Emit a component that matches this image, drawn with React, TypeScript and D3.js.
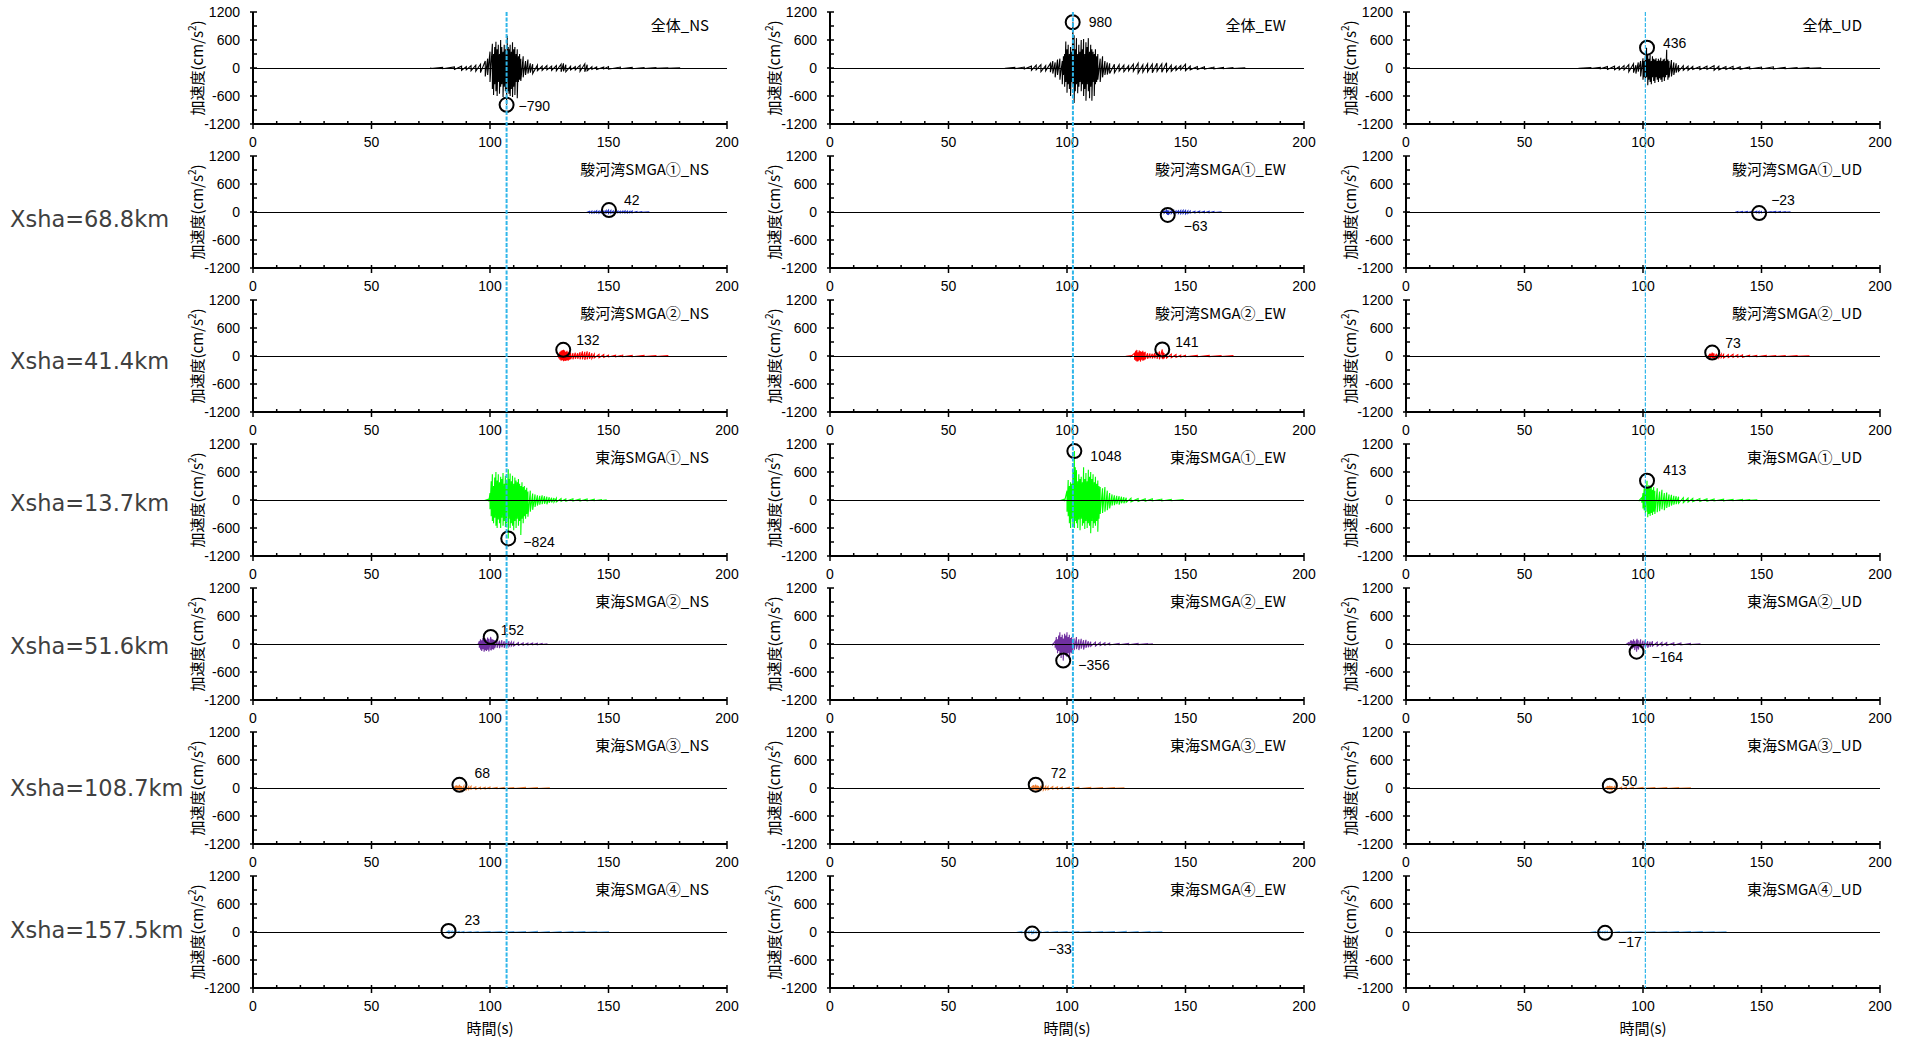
import React from "react";
import * as d3 from "d3";

// ---------- data ----------
const COMPONENTS = ["NS", "EW", "UD"];
const SOURCES = ["全体", "駿河湾SMGA①", "駿河湾SMGA②", "東海SMGA①", "東海SMGA②", "東海SMGA③", "東海SMGA④"];
const XSHA = ["", "68.8", "41.4", "13.7", "51.6", "108.7", "157.5"];
const Y_TICKS = [-1200, -600, 0, 600, 1200];
const Y_MINOR = [-900, -300, 300, 900];
const X_TICKS = [0, 50, 100, 150, 200];
const MARK_T = [107, 102.5, 101];

const PEAK_T = [
  [107, 102.4, 101.7],
  [150.2, 142.5, 149],
  [130.9, 140.2, 129.2],
  [107.7, 103.1, 101.7],
  [100.3, 98.4, 97.3],
  [87.1, 86.8, 86],
  [82.5, 85.3, 84],
];
const PEAK_V = [
  [-790, 980, 436],
  [42, -63, -23],
  [132, 141, 73],
  [-824, 1048, 413],
  [152, -356, -164],
  [68, 72, 50],
  [23, -33, -17],
];

// envelope samples: time, upper, lower (cm/s2)
const W_ALL_NS = [
  75, 10, -10, 80, 15, -15, 85, 25, -30, 88, 40, -50, 90, 30, -40, 92, 50, -60, 94, 60, -70, 96, 80, -100,
  98, 150, -180, 99, 200, -150, 100, 350, -300, 101, 520, -450, 101.5, 300, -580, 102, 450, -350, 102.5, 560, -500,
  103, 400, -600, 103.5, 500, -300, 104, 300, -550, 104.5, 600, -400, 105, 450, -350, 105.5, 350, -620, 106, 500, -400,
  106.5, 400, -500, 107, 300, -790, 107.3, 690, -300, 107.7, 450, -500, 108, 400, -550, 108.5, 500, -600, 109, 350, -450,
  109.5, 550, -620, 110, 400, -400, 110.5, 450, -580, 111, 300, -300, 111.5, 400, -650, 112, 250, -300, 112.5, 300, -250,
  113, 200, -280, 114, 250, -200, 115, 150, -150, 116, 180, -120, 117, 100, -100, 118, 80, -120, 120, 60, -60,
  122, 40, -50, 124, 50, -40, 126, 40, -50, 128, 50, -60, 130, 80, -80, 131, 100, -70, 132, 70, -80, 134, 40, -40,
  136, 30, -40, 138, 60, -70, 140, 90, -80, 141, 70, -60, 143, 30, -30, 145, 25, -30, 148, 20, -20, 150, 30, -25,
  155, 20, -15, 160, 15, -15, 165, 10, -10, 170, 8, -8, 175, 5, -5, 180, 5, -5,
];
const W_ALL_EW = [
  74, 8, -8, 78, 12, -15, 82, 20, -20, 85, 40, -50, 87, 60, -40, 89, 70, -80, 91, 50, -60, 93, 100, -90, 94, 150, -120,
  95, 120, -200, 96, 180, -150, 97, 200, -250, 98, 150, -350, 98.5, 250, -150, 99, 300, -400, 99.5, 570, -300,
  100, 400, -530, 100.5, 500, -350, 101, 300, -450, 101.5, 450, -600, 102, 350, -300, 102.5, 980, -400, 103, 700, -750,
  103.5, 400, -500, 104, 640, -350, 104.5, 300, -540, 105, 500, -400, 105.5, 350, -300, 106, 600, -500, 106.5, 400, -350,
  107, 620, -600, 107.5, 300, -450, 108, 550, -700, 108.5, 450, -350, 109, 640, -500, 109.5, 350, -650, 110, 500, -400,
  110.5, 400, -700, 111, 350, -300, 111.5, 300, -600, 112, 400, -350, 112.5, 250, -300, 113, 300, -250, 114, 200, -300,
  115, 250, -200, 116, 150, -150, 117, 120, -140, 118, 100, -120, 120, 80, -100, 122, 70, -70, 124, 60, -80, 126, 50, -60,
  128, 80, -70, 130, 100, -110, 132, 70, -90, 134, 90, -80, 136, 80, -100, 138, 100, -70, 140, 90, -90, 142, 110, -80,
  144, 60, -70, 146, 40, -50, 148, 50, -40, 150, 80, -60, 152, 40, -40, 155, 30, -30, 158, 25, -25, 162, 20, -20,
  166, 15, -15, 170, 10, -10, 175, 5, -5,
];
const W_ALL_UD = [
  73, 5, -5, 78, 10, -10, 82, 15, -15, 85, 30, -30, 88, 40, -35, 90, 30, -40, 92, 50, -40, 94, 70, -80, 96, 90, -100,
  97, 60, -120, 98, 120, -80, 99, 150, -180, 100, 210, -250, 100.5, 150, -200, 101, 250, -300, 101.5, 436, -200,
  102, 300, -370, 102.5, 200, -250, 103, 280, -300, 103.5, 150, -350, 104, 250, -200, 104.5, 200, -280, 105, 180, -320,
  105.5, 210, -200, 106, 150, -250, 106.5, 200, -300, 107, 160, -220, 107.5, 220, -250, 108, 150, -300, 108.5, 180, -200,
  109, 200, -280, 109.5, 150, -200, 110, 390, -150, 110.5, 180, -250, 111, 150, -200, 112, 170, -180, 113, 120, -150,
  114, 100, -100, 115, 60, -70, 117, 50, -50, 119, 40, -50, 121, 35, -30, 124, 30, -35, 127, 40, -30, 130, 50, -50,
  132, 40, -40, 135, 30, -30, 138, 35, -30, 141, 25, -30, 145, 20, -20, 150, 20, -20, 155, 25, -20, 160, 15, -15,
  165, 10, -10, 170, 8, -8, 175, 5, -5,
];
const W_S1_NS = [
  141, 5, -5, 142, 15, -20, 143, 20, -25, 144, 15, -20, 145, 25, -20, 146, 20, -25, 147, 25, -20, 148, 20, -30,
  149, 30, -25, 150, 42, -30, 151, 30, -25, 152, 20, -20, 153, 15, -15, 154, 20, -15, 155, 15, -20, 156, 20, -15,
  157, 25, -20, 158, 20, -20, 159, 15, -15, 160, 20, -15, 162, 10, -10, 164, 8, -8, 167, 5, -5,
];
const W_S1_EW = [
  140, 5, -5, 141, 20, -25, 142, 40, -45, 142.5, 35, -63, 143, 30, -40, 144, 25, -30, 145, 30, -25, 146, 20, -25,
  147, 25, -30, 148, 30, -35, 149, 35, -30, 150, 30, -40, 151, 25, -30, 152, 20, -20, 154, 15, -20, 156, 20, -15,
  158, 15, -15, 160, 15, -15, 162, 10, -10, 165, 5, -5,
];
const W_S1_UD = [
  139, 5, -5, 140, 10, -12, 142, 12, -10, 144, 10, -12, 146, 12, -15, 148, 15, -18, 149, 15, -23, 150, 12, -15,
  152, 10, -10, 154, 8, -8, 156, 12, -10, 158, 10, -10, 160, 6, -6, 162, 4, -4,
];
const W_S2_NS = [
  128.5, 10, -10, 129, 40, -50, 129.5, 90, -80, 130, 110, -100, 130.5, 125, -90, 131, 132, -110, 131.5, 120, -100,
  132, 90, -105, 132.5, 110, -90, 133, 80, -100, 133.5, 100, -80, 134, 70, -70, 135, 60, -70, 136, 70, -60, 137, 60, -60,
  138, 80, -70, 139, 100, -70, 140, 90, -80, 141, 100, -70, 142, 80, -60, 143, 60, -50, 144, 40, -40, 146, 35, -35,
  148, 30, -30, 150, 20, -20, 153, 15, -15, 156, 20, -15, 160, 15, -15, 165, 15, -10, 170, 10, -10, 175, 8, -8,
];
const W_S2_EW = [
  125, 5, -5, 127, 10, -10, 128.5, 60, -80, 129, 110, -100, 129.5, 130, -120, 130, 80, -110, 130.5, 120, -90,
  131, 100, -120, 131.5, 90, -80, 132, 110, -100, 132.5, 80, -90, 133, 90, -70, 134, 60, -60, 135, 55, -50, 136, 50, -55,
  137, 60, -50, 138, 80, -60, 139, 100, -70, 140.2, 141, -60, 140.5, 90, -70, 141, 60, -50, 142, 50, -45, 144, 40, -35,
  146, 30, -30, 148, 20, -20, 150, 15, -15, 155, 15, -15, 160, 12, -12, 165, 10, -10, 170, 8, -8,
];
const W_S2_UD = [
  127.5, 5, -5, 128, 30, -40, 128.5, 50, -45, 129.2, 73, -50, 129.5, 60, -45, 130, 55, -60, 131, 50, -45, 132, 45, -40,
  133, 40, -35, 134, 35, -40, 136, 30, -30, 138, 35, -30, 140, 30, -25, 142, 25, -25, 145, 15, -15, 148, 15, -15,
  152, 12, -12, 156, 10, -10, 160, 10, -10, 165, 8, -8, 170, 6, -6,
];
const W_T1_NS = [
  98, 5, -5, 99.5, 20, -30, 100, 150, -200, 100.5, 400, -350, 101, 550, -450, 101.5, 300, -500, 102, 480, -380,
  102.5, 600, -550, 103, 420, -600, 103.5, 550, -420, 104, 380, -500, 104.5, 500, -600, 105, 450, -380, 105.5, 580, -550,
  106, 350, -450, 106.5, 520, -580, 107, 400, -500, 107.7, 660, -824, 108, 450, -400, 108.5, 570, -600, 109, 400, -500,
  109.5, 520, -550, 110, 350, -650, 110.5, 480, -450, 111, 420, -600, 111.5, 380, -400, 112, 450, -550, 112.5, 350, -450,
  113, 300, -750, 113.5, 380, -400, 114, 280, -500, 114.5, 300, -350, 115, 220, -400, 115.5, 260, -300, 116, 180, -360,
  117, 200, -250, 118, 140, -210, 119, 120, -150, 120, 100, -120, 121, 90, -100, 122, 100, -90, 123, 80, -80,
  124, 70, -90, 125, 60, -60, 126, 50, -55, 127, 45, -45, 128, 40, -40, 130, 30, -30, 132, 25, -25, 135, 25, -20,
  138, 20, -20, 141, 20, -20, 144, 15, -15, 147, 10, -10, 149, 5, -5,
];
const W_T1_EW = [
  97.5, 5, -5, 99, 20, -25, 100, 200, -250, 100.5, 430, -350, 101, 300, -500, 101.5, 380, -600, 102, 350, -400,
  102.5, 600, -550, 103.1, 1048, -600, 103.5, 700, -450, 104, 640, -500, 104.5, 400, -600, 105, 550, -420, 105.5, 450, -650,
  106, 500, -400, 106.5, 380, -550, 107, 700, -500, 107.5, 450, -620, 108, 580, -450, 108.5, 400, -600, 109, 650, -500,
  109.5, 500, -550, 110, 600, -710, 110.5, 450, -450, 111, 550, -600, 111.5, 380, -500, 112, 500, -550, 112.5, 350, -450,
  113, 420, -680, 113.5, 300, -400, 114, 280, -300, 115, 250, -280, 116, 280, -250, 117, 200, -220, 118, 150, -180,
  119, 120, -120, 120, 100, -110, 121, 90, -90, 122, 80, -100, 123, 70, -70, 124, 60, -70, 125, 50, -50, 127, 40, -40,
  130, 30, -30, 133, 25, -25, 136, 25, -20, 140, 20, -20, 144, 15, -15, 149, 8, -8,
];
const W_T1_UD = [
  98.5, 5, -5, 99.5, 50, -60, 100, 150, -180, 100.5, 250, -220, 101, 300, -280, 101.7, 413, -250, 102, 280, -370,
  102.5, 320, -300, 103, 250, -340, 103.5, 300, -280, 104, 220, -320, 104.5, 280, -250, 105, 200, -300, 106, 250, -260,
  107, 180, -240, 108, 220, -200, 109, 150, -220, 110, 160, -170, 111, 120, -150, 112, 110, -120, 113, 90, -100,
  114, 80, -90, 115, 70, -70, 117, 50, -60, 119, 40, -45, 121, 35, -35, 124, 30, -30, 127, 25, -25, 130, 20, -20,
  134, 18, -18, 138, 15, -15, 142, 12, -12, 145, 8, -8, 148, 5, -5,
];
const W_T2_NS = [
  95, 10, -10, 95.5, 60, -80, 96, 100, -120, 96.5, 80, -150, 97, 130, -110, 97.5, 100, -165, 98, 120, -130,
  98.5, 90, -150, 99, 140, -120, 99.5, 110, -160, 100.3, 152, -130, 100.5, 120, -140, 101, 100, -110, 101.5, 90, -120,
  102, 80, -90, 103, 90, -80, 104, 70, -90, 105, 80, -70, 106, 60, -80, 107, 70, -60, 108, 60, -50, 109, 40, -40,
  110, 35, -40, 112, 30, -30, 114, 25, -25, 116, 20, -20, 118, 20, -15, 120, 15, -15, 122, 10, -10, 124, 5, -5,
];
const W_T2_EW = [
  94, 10, -10, 95, 60, -80, 95.5, 150, -120, 96, 100, -200, 96.5, 180, -150, 97, 250, -220, 97.5, 150, -300,
  98, 200, -180, 98.4, 120, -356, 99, 220, -200, 99.5, 180, -250, 100, 250, -280, 100.5, 150, -200, 101, 200, -330,
  101.5, 130, -180, 102, 150, -200, 103, 120, -130, 104, 150, -110, 105, 100, -130, 106, 110, -100, 107, 80, -120,
  108, 90, -80, 109, 60, -70, 110, 50, -50, 112, 40, -45, 114, 35, -35, 116, 25, -25, 118, 20, -20, 122, 15, -15,
  126, 15, -15, 130, 12, -12, 134, 8, -8, 136, 5, -5,
];
const W_T2_UD = [
  93, 5, -5, 94, 30, -40, 95, 80, -60, 95.5, 60, -100, 96, 100, -80, 96.5, 70, -130, 97.3, 90, -164, 97.5, 110, -90,
  98, 80, -120, 99, 100, -80, 100, 70, -100, 101, 80, -70, 102, 60, -80, 103, 50, -60, 104, 60, -45, 106, 40, -45,
  108, 35, -35, 110, 30, -30, 113, 25, -25, 116, 20, -20, 120, 12, -12, 124, 5, -5,
];
const W_T3_NS = [
  84.5, 5, -5, 85.5, 40, -35, 86, 55, -50, 86.5, 45, -40, 87.1, 68, -45, 87.5, 50, -55, 88, 40, -45, 89, 45, -35,
  90, 35, -40, 91, 30, -30, 92, 35, -25, 94, 25, -30, 96, 20, -20, 98, 15, -20, 100, 20, -15, 103, 15, -15, 106, 12, -12,
  110, 10, -10, 115, 12, -10, 120, 10, -10, 125, 5, -5,
];
const W_T3_EW = [
  84.5, 5, -5, 85.5, 40, -45, 86, 60, -50, 86.8, 72, -55, 87, 50, -50, 87.5, 55, -60, 88, 45, -50, 89, 50, -40,
  90, 40, -45, 91, 35, -35, 92, 30, -35, 94, 30, -25, 96, 25, -25, 98, 20, -20, 101, 15, -15, 105, 15, -15, 110, 12, -12,
  115, 10, -10, 120, 8, -8, 124, 5, -5,
];
const W_T3_UD = [
  84, 5, -5, 85, 30, -35, 85.5, 40, -30, 86, 50, -35, 86.5, 35, -40, 87, 40, -30, 88, 30, -35, 89, 25, -25, 91, 20, -25,
  93, 20, -20, 96, 15, -15, 100, 12, -12, 105, 10, -10, 110, 10, -10, 115, 8, -8, 120, 5, -5,
];
const W_T4_NS = [
  81.5, 5, -5, 82.5, 23, -15, 83, 15, -18, 84, 18, -15, 85, 15, -15, 87, 12, -12, 89, 10, -12, 92, 10, -10, 95, 8, -8,
  100, 8, -8, 105, 10, -10, 110, 8, -8, 115, 10, -10, 120, 12, -10, 125, 10, -10, 130, 10, -10, 135, 8, -8, 140, 8, -8,
  145, 6, -6, 150, 4, -4,
];
const W_T4_EW = [
  79, 5, -5, 81, 12, -15, 83, 15, -20, 84, 20, -25, 85, 18, -28, 85.3, 15, -33, 86, 20, -25, 87, 15, -20, 89, 12, -15,
  92, 10, -10, 96, 8, -8, 100, 8, -8, 105, 8, -8, 110, 10, -10, 115, 8, -8, 120, 10, -10, 125, 12, -10, 130, 10, -10,
  135, 8, -8, 140, 4, -4,
];
const W_T4_UD = [
  78, 4, -4, 80, 8, -10, 82, 10, -12, 83, 10, -14, 84, 12, -17, 85, 10, -12, 87, 8, -10, 90, 6, -6, 95, 6, -6,
  100, 5, -5, 105, 6, -6, 110, 6, -6, 115, 8, -8, 120, 8, -8, 125, 8, -6, 130, 6, -6, 135, 4, -4,
];

const WAVES = [
  [W_ALL_NS, W_ALL_EW, W_ALL_UD],
  [W_S1_NS, W_S1_EW, W_S1_UD],
  [W_S2_NS, W_S2_EW, W_S2_UD],
  [W_T1_NS, W_T1_EW, W_T1_UD],
  [W_T2_NS, W_T2_EW, W_T2_UD],
  [W_T3_NS, W_T3_EW, W_T3_UD],
  [W_T4_NS, W_T4_EW, W_T4_UD],
];

// ---------- layout / style ----------
const W = 1906;
const H = 1039;
const COL_X0 = [253, 830, 1406];
const PLOT_W = 474;
const ROW_TOP0 = 12;
const ROW_PITCH = 144;
const PLOT_H = 112;
const ROW_COLORS = ["#000000", "#1d2fc4", "#ff0000", "#00ff00", "#7030a0", "#ed7d31", "#4f9fdf"];
const MARK_W = [2, 2, 1.2];
// label offsets (dx, dy) from circle centre
const LABEL_OFF = [
  [[12, 1], [16, 0], [16, -5]],
  [[15, -10], [16, 11], [12, -13]],
  [[13, -10], [13, -7], [13, -10]],
  [[15, 4], [16, 5], [16, -11]],
  [[10, -7], [15, 4], [15, 5]],
  [[15, -12], [15, -12], [12, -5]],
  [[16, -11], [16, 15], [13, 9]],
];
const NUM_FONT = "'Liberation Sans', Arial, sans-serif";
const JP_FONT = "'Noto Sans CJK JP', 'Noto Sans', sans-serif";

function fmt(v: number) {
  return v < 0 ? "\u2212" + Math.abs(v) : String(v);
}

function Panel({ r, c }: { r: number; c: number }) {
  const x0 = COL_X0[c];
  const top = ROW_TOP0 + r * ROW_PITCH;
  const bottom = top + PLOT_H;
  const x = d3.scaleLinear().domain([0, 200]).range([x0, x0 + PLOT_W]);
  const y = d3.scaleLinear().domain([-1200, 1200]).range([bottom, top]);
  const w = WAVES[r][c];
  const pts: [number, number][] = [];
  for (let i = 0; i < w.length; i += 3) {
    pts.push([w[i], w[i + 1]]);
    pts.push([w[i], w[i + 2]]);
  }
  const line = d3
    .line<[number, number]>()
    .x((d) => x(d[0]))
    .y((d) => y(d[1]));
  const xMinor = d3.range(0, 201, 10).filter((t) => t % 50 !== 0);
  const cx = x(PEAK_T[r][c]);
  const cy = y(PEAK_V[r][c]);
  const [ldx, ldy] = LABEL_OFF[r][c];
  return (
    <g>
      <path d={line(pts) || ""} fill="none" stroke={ROW_COLORS[r]} strokeWidth={1.1} strokeLinejoin="miter" />
      <line x1={x(0)} x2={x(200)} y1={Math.round(y(0)) + 0.5} y2={Math.round(y(0)) + 0.5} stroke="#000" strokeWidth={1} shapeRendering="crispEdges" />
      {/* y axis */}
      <line x1={x0} x2={x0} y1={top} y2={bottom} stroke="#000" strokeWidth={2} shapeRendering="crispEdges" />
      {Y_TICKS.map((v) => (
        <g key={"yt" + v}>
          <line x1={x0 - 3} x2={x0 + 4} y1={y(v)} y2={y(v)} stroke="#000" strokeWidth={1.5} />
          <text x={x0 - 13} y={y(v)} textAnchor="end" dominantBaseline="central" fontFamily={NUM_FONT} fontSize={14} fill="#000">
            {v}
          </text>
        </g>
      ))}
      {Y_MINOR.map((v) => (
        <line key={"ym" + v} x1={x0} x2={x0 + 4} y1={y(v)} y2={y(v)} stroke="#000" strokeWidth={1.5} />
      ))}
      {/* x axis */}
      <line x1={x0} x2={x0 + PLOT_W} y1={bottom} y2={bottom} stroke="#000" strokeWidth={2} shapeRendering="crispEdges" />
      {X_TICKS.map((t) => (
        <g key={"xt" + t}>
          <line x1={x(t)} x2={x(t)} y1={bottom - 3} y2={bottom + 5} stroke="#000" strokeWidth={1.5} />
          <text x={x(t)} y={bottom + 23} textAnchor="middle" fontFamily={NUM_FONT} fontSize={14} fill="#000">
            {t}
          </text>
        </g>
      ))}
      {xMinor.map((t) => (
        <line key={"xm" + t} x1={x(t)} x2={x(t)} y1={bottom - 3} y2={bottom} stroke="#000" strokeWidth={1.5} />
      ))}
      {/* y title */}
      <text
        transform={`translate(${x0 - 57},${(top + bottom) / 2}) rotate(-90)`}
        textAnchor="middle"
        dominantBaseline="central"
        fontFamily={JP_FONT}
        fontSize={15}
        fill="#000"
      >
        加速度(cm/s<tspan fontSize={10} dy={-5}>2</tspan>
        <tspan dy={5}>)</tspan>
      </text>
      {/* panel title */}
      <text x={x0 + PLOT_W - 18} y={top + 19} textAnchor="end" fontFamily={JP_FONT} fontSize={15} fill="#000">
        {SOURCES[r] + "_" + COMPONENTS[c]}
      </text>
      {/* peak marker */}
      <circle cx={cx} cy={cy} r={7} fill="none" stroke="#000" strokeWidth={2} />
      <text x={cx + ldx} y={cy + ldy} dominantBaseline="central" fontFamily={NUM_FONT} fontSize={14} fill="#000">
        {fmt(PEAK_V[r][c])}
      </text>
    </g>
  );
}

export default function App() {
  const rows = d3.range(SOURCES.length);
  const cols = d3.range(COMPONENTS.length);
  const lastBottom = ROW_TOP0 + (SOURCES.length - 1) * ROW_PITCH + PLOT_H;
  return (
    <svg width={W} height={H} style={{ position: "absolute", left: 0, top: 0, background: "#fff" }}>
      <rect width={W} height={H} fill="#fff" />
      {rows.map((r) => cols.map((c) => <Panel key={r + "-" + c} r={r} c={c} />))}
      {rows
        .filter((r) => XSHA[r] !== "")
        .map((r) => (
          <text key={"xs" + r} x={10} y={227 + 142.2 * (r - 1)} fontFamily="'DejaVu Sans', sans-serif" fontSize={22.5} fill="#404040">
            {"Xsha=" + XSHA[r] + "km"}
          </text>
        ))}
      {cols.map((c) => {
        const x = d3.scaleLinear().domain([0, 200]).range([COL_X0[c], COL_X0[c] + PLOT_W]);
        return (
          <g key={"mk" + c}>
            <line
              x1={x(MARK_T[c])}
              x2={x(MARK_T[c])}
              y1={ROW_TOP0}
              y2={lastBottom}
              stroke="#2fb6ea"
              strokeWidth={MARK_W[c]}
              strokeDasharray="4,1.5"
            />
            <text x={x(100)} y={1034} textAnchor="middle" fontFamily={JP_FONT} fontSize={15} fill="#000">
              時間(s)
            </text>
          </g>
        );
      })}
    </svg>
  );
}
